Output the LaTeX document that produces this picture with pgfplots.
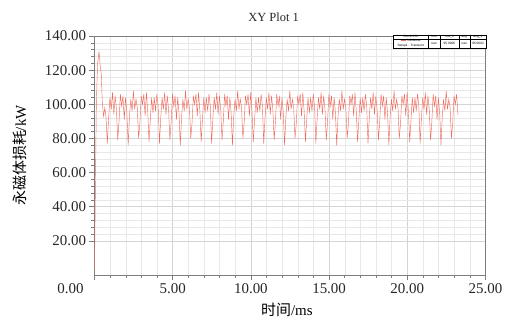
\documentclass[border=0pt]{standalone}
\usepackage{pgfplots}
\pgfplotsset{compat=1.18}
\usepackage{fontspec}
\usepackage{array}
\setmainfont{Liberation Serif}
\newfontfamily\cjk{Noto Sans CJK SC}
\newfontfamily\lsans{Liberation Sans}
\definecolor{plotred}{RGB}{240,108,96}
\definecolor{gridmaj}{RGB}{212,212,212}
\definecolor{gridmin}{RGB}{232,232,232}
\definecolor{axgray}{RGB}{125,125,125}
\begin{document}
\begin{tikzpicture}
\useasboundingbox (-94.5bp,-50bp) rectangle (418.5bp,275bp);
\begin{axis}[
  name=ax,
  scale only axis, width=391bp, height=239bp,
  xmin=0, xmax=25, ymin=0, ymax=140,
  xtick={0,5,...,25}, ytick={20,40,...,140},
  xticklabels={\makebox[0pt][r]{0.00\hspace{11bp}},5.00,10.00,15.00,20.00,25.00},
  yticklabels={20.00,40.00,60.00,80.00,100.00,120.00,140.00},
  minor x tick num=4, minor y tick num=4,
  grid=both,
  major grid style={gridmaj, line width=0.5pt},
  minor grid style={gridmin, line width=0.4pt},
  axis line style={axgray, line width=0.7pt},
  tick style={axgray, line width=0.5pt},
  tick align=outside, major tick length=5bp, minor tick length=3bp,
  xtick pos=lower, ytick pos=left,
  tick label style={font=\fontsize{15}{18}\selectfont, text=black!85},
  title={XY Plot 1},
  title style={font=\fontsize{12.5}{15}\selectfont, text=black!85, at={(axis description cs:0.458,1.054)}, anchor=center},
  xlabel={{\cjk 时间}/ms},
  xlabel style={font=\fontsize{15}{18}\selectfont, at={(axis description cs:0.492,-0.146)}, anchor=center},
  ylabel={{\cjk 永磁体损耗}/kW},
  ylabel style={font=\fontsize{15}{18}\selectfont, at={(axis description cs:-0.19,0.5)}, anchor=center},
]
\addplot[plotred, line width=0.45pt, mark=none] coordinates {
(0,3) (0.05,45) (0.12,102) (0.2,124) (0.29,131) (0.36,123) (0.43,118) (0.5,101) (0.58,93) (0.66,98) (0.74,92)
(0.820,77) (0.903,92) (0.987,104) (1.070,97) (1.153,107) (1.237,94) (1.320,105) (1.403,97)
(1.487,79) (1.570,90) (1.653,106) (1.737,99) (1.820,105) (1.903,91) (1.987,104) (2.070,95)
(2.153,76) (2.237,93) (2.320,103) (2.403,96) (2.487,108) (2.570,97) (2.653,103) (2.737,98)
(2.820,80) (2.903,89) (2.987,105) (3.070,100) (3.153,106) (3.237,93) (3.320,107) (3.403,96)
(3.487,78) (3.570,91) (3.653,104) (3.737,95) (3.820,104) (3.903,96) (3.987,106) (4.070,99)
(4.153,77) (4.237,92) (4.320,104) (4.403,97) (4.487,107) (4.570,94) (4.653,105) (4.737,97)
(4.820,79) (4.903,90) (4.987,106) (5.070,99) (5.153,105) (5.237,91) (5.320,104) (5.403,95)
(5.487,76) (5.570,93) (5.653,103) (5.737,96) (5.820,108) (5.903,97) (5.987,103) (6.070,98)
(6.153,80) (6.237,89) (6.320,105) (6.403,100) (6.487,106) (6.570,93) (6.653,107) (6.737,96)
(6.820,78) (6.903,91) (6.987,104) (7.070,95) (7.153,104) (7.237,96) (7.320,106) (7.403,99)
(7.487,77) (7.570,92) (7.653,104) (7.737,97) (7.820,107) (7.903,94) (7.987,105) (8.070,97)
(8.153,79) (8.237,90) (8.320,106) (8.403,99) (8.487,105) (8.570,91) (8.653,104) (8.737,95)
(8.820,76) (8.903,93) (8.987,103) (9.070,96) (9.153,108) (9.237,97) (9.320,103) (9.403,98)
(9.487,80) (9.570,89) (9.653,105) (9.737,100) (9.820,106) (9.903,93) (9.987,107) (10.070,96)
(10.153,78) (10.237,91) (10.320,104) (10.403,95) (10.487,104) (10.570,96) (10.653,106) (10.737,99)
(10.820,77) (10.903,92) (10.987,104) (11.070,97) (11.153,107) (11.237,94) (11.320,105) (11.403,97)
(11.487,79) (11.570,90) (11.653,106) (11.737,99) (11.820,105) (11.903,91) (11.987,104) (12.070,95)
(12.153,76) (12.237,93) (12.320,103) (12.403,96) (12.487,108) (12.570,97) (12.653,103) (12.737,98)
(12.820,80) (12.903,89) (12.987,105) (13.070,100) (13.153,106) (13.237,93) (13.320,107) (13.403,96)
(13.487,78) (13.570,91) (13.653,104) (13.737,95) (13.820,104) (13.903,96) (13.987,106) (14.070,99)
(14.153,77) (14.237,92) (14.320,104) (14.403,97) (14.487,107) (14.570,94) (14.653,105) (14.737,97)
(14.820,79) (14.903,90) (14.987,106) (15.070,99) (15.153,105) (15.237,91) (15.320,104) (15.403,95)
(15.487,76) (15.570,93) (15.653,103) (15.737,96) (15.820,108) (15.903,97) (15.987,103) (16.070,98)
(16.153,80) (16.237,89) (16.320,105) (16.403,100) (16.487,106) (16.570,93) (16.653,107) (16.737,96)
(16.820,78) (16.903,91) (16.987,104) (17.070,95) (17.153,104) (17.237,96) (17.320,106) (17.403,99)
(17.487,77) (17.570,92) (17.653,104) (17.737,97) (17.820,107) (17.903,94) (17.987,105) (18.070,97)
(18.153,79) (18.237,90) (18.320,106) (18.403,99) (18.487,105) (18.570,91) (18.653,104) (18.737,95)
(18.820,76) (18.903,93) (18.987,103) (19.070,96) (19.153,108) (19.237,97) (19.320,103) (19.403,98)
(19.487,80) (19.570,89) (19.653,105) (19.737,100) (19.820,106) (19.903,93) (19.987,107) (20.070,96)
(20.153,78) (20.237,91) (20.320,104) (20.403,95) (20.487,104) (20.570,96) (20.653,106) (20.737,99)
(20.820,77) (20.903,92) (20.987,104) (21.070,97) (21.153,107) (21.237,94) (21.320,105) (21.403,97)
(21.487,79) (21.570,90) (21.653,106) (21.737,99) (21.820,105) (21.903,91) (21.987,104) (22.070,95)
(22.153,76) (22.237,93) (22.320,103) (22.403,96) (22.487,108) (22.570,97) (22.653,103) (22.737,98)
(22.820,80) (22.903,89) (22.987,105) (23.070,100) (23.153,106) (23.237,94)
};
\end{axis}
\node[anchor=north east, inner sep=0pt, fill=white, font=\lsans\fontsize{3.2}{3.8}\selectfont]
  at ([xshift=1.3bp,yshift=1.5bp]ax.north east) {%
  \setlength\tabcolsep{0.8pt}\setlength\arrayrulewidth{0.25pt}%
  \begin{tabular}{|>{\centering\arraybackslash}m{33bp}|>{\centering\arraybackslash}m{10bp}|>{\centering\arraybackslash}m{17bp}|>{\centering\arraybackslash}m{9bp}|>{\centering\arraybackslash}m{15bp}|}
  \hline
  Curve Info & rms & rms\_1 & avg & avg\_1\\\hline
  \shortstack{\textcolor{plotred}{\rule[0.3ex]{5bp}{0.5pt}}\ SolidLoss\\Setup1 : Transient} & nan & 95.0006 & nan & 95.0602\\\hline
  \end{tabular}};
\end{tikzpicture}
\end{document}
